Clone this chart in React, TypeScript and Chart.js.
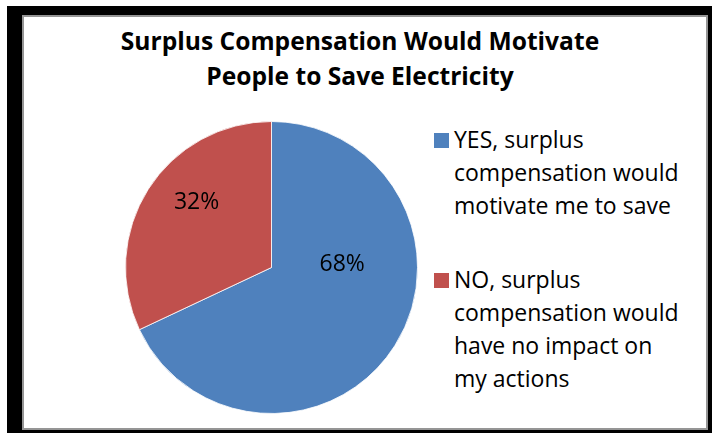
import React, { useEffect, useRef } from "react";
import { Chart, registerables } from "chart.js";

Chart.register(...registerables);

const titleLines = ["Surplus Compensation Would Motivate", "People to Save Electricity"];
const categories = [
  "YES, surplus\ncompensation would\nmotivate me to save",
  "NO, surplus\ncompensation would\nhave no impact on\nmy actions",
];
const values = [68, 32];
const colors = ["#4F81BD", "#C0504D"];

// label placement (style only): angle shift in degrees and radius fraction per slice
const labelAngleShift = [-36, 9.3];
const labelRadiusFrac = [0.485, 0.687];

const pieLabels = {
  id: "pieLabels",
  afterDatasetsDraw(chart: any) {
    const ctx = chart.ctx;
    const meta = chart.getDatasetMeta(0);
    const data = chart.data.datasets[0].data as number[];
    const total = data.reduce((a: number, b: number) => a + b, 0);
    ctx.save();
    ctx.font = '23px "Open Sans"';
    ctx.fillStyle = "#000";
    ctx.textAlign = "center";
    ctx.textBaseline = "alphabetic";
    meta.data.forEach((arc: any, i: number) => {
      const p = arc.getProps(["x", "y", "startAngle", "endAngle", "outerRadius"], true);
      const mid = (p.startAngle + p.endAngle) / 2 + (labelAngleShift[i] * Math.PI) / 180;
      const r = p.outerRadius * labelRadiusFrac[i];
      const cx = p.x + Math.cos(mid) * r;
      const cy = p.y + Math.sin(mid) * r;
      const text = Math.round((data[i] / total) * 100) + "%";
      ctx.fillText(text, cx, cy + 8.2);
    });
    ctx.restore();
  },
};

export default function App() {
  const canvasRef = useRef<HTMLCanvasElement | null>(null);

  useEffect(() => {
    if (!canvasRef.current) return;
    const chart = new Chart(canvasRef.current, {
      type: "pie",
      data: {
        labels: categories,
        datasets: [
          {
            data: values,
            backgroundColor: colors,
            borderColor: "rgba(255,255,255,0.8)",
            borderWidth: 1,
            hoverOffset: 0,
            offset: 0,
          },
        ],
      },
      options: {
        animation: false,
        responsive: false,
        devicePixelRatio: 1,
        layout: { padding: 0 },
        plugins: {
          legend: { display: false },
          tooltip: { enabled: false },
          title: { display: false },
        },
      },
      plugins: [pieLabels],
    });
    return () => chart.destroy();
  }, []);

  return (
    <div
      style={{
        position: "absolute",
        left: 0,
        top: 0,
        width: 715,
        height: 436,
        background: "#fff",
        overflow: "hidden",
      }}
    >
      <div
        style={{
          position: "absolute",
          left: 7,
          top: 6,
          width: 705,
          height: 427,
          background: "#000",
        }}
      />
      <div
        style={{
          position: "absolute",
          left: 22,
          top: 15,
          width: 682,
          height: 411,
          background: "#fff",
          border: "2px solid #959595",
        }}
      />
      <div
        style={{
          position: "absolute",
          left: 110,
          top: 23,
          width: 500,
          textAlign: "center",
          fontFamily: '"Open Sans", sans-serif',
          fontWeight: 700,
          fontSize: "24.6px",
          lineHeight: "35px",
          color: "#000",
          whiteSpace: "nowrap",
        }}
      >
        {titleLines.map((t, i) => (
          <div key={i}>{t}</div>
        ))}
      </div>
      <canvas
        ref={canvasRef}
        width={293}
        height={293}
        style={{ position: "absolute", left: 125, top: 121, width: 293, height: 293 }}
      />
      <div
        style={{
          position: "absolute",
          left: 434,
          top: 123,
          fontFamily: '"Open Sans", sans-serif',
          fontSize: "23px",
          lineHeight: "33px",
          color: "#000",
        }}
      >
        {categories.map((c, i) => (
          <div key={i} style={{ position: "relative", marginTop: i === 0 ? 0 : 41 }}>
            <div
              style={{
                position: "absolute",
                left: 0,
                top: 10,
                width: 15,
                height: 15,
                background: colors[i],
              }}
            />
            <div style={{ marginLeft: 20, whiteSpace: "pre" }}>{c}</div>
          </div>
        ))}
      </div>
    </div>
  );
}
